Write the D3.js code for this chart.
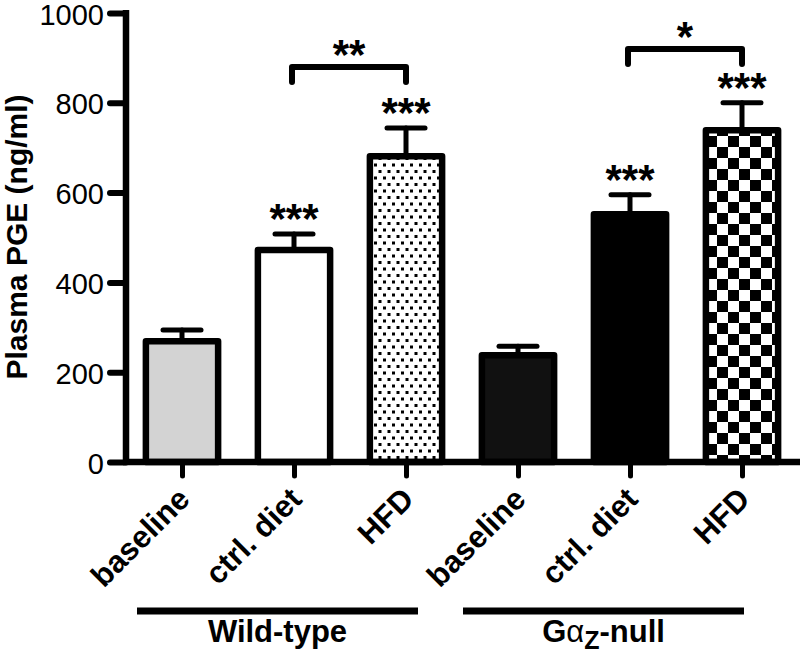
<!DOCTYPE html>
<html><head><meta charset="utf-8">
<script src="https://cdn.jsdelivr.net/npm/d3@7/dist/d3.min.js"></script>
<style>html,body{margin:0;padding:0;background:#fff}svg{display:block}</style>
</head><body>
<svg id="c" width="800" height="653"></svg>
<script>
const categories = ["baseline","ctrl. diet","HFD","baseline ","ctrl. diet ","HFD "];
const labels = ["baseline","ctrl. diet","HFD","baseline","ctrl. diet","HFD"];
const means = [269, 472, 681, 238, 552, 739];
const errors = [25, 36, 63, 20, 43, 61];
const fills = ["#d3d3d3","#ffffff","url(#dots)","#111111","#000000","url(#checker)"];
const stars = ["","***","***","","***","***"];
const yTicks = [0,200,400,600,800,1000];
const groups = [{name:"Wild-type", from:0, to:2},{name:"null", from:3, to:5}];
const brackets = [{from:1, to:2, y:880, label:"**"},{from:4, to:5, y:920, label:"*"}];

const svg = d3.select("#c");
const font = "'Liberation Sans', Arial, sans-serif";
const defs = svg.append("defs");
const pd = defs.append("pattern").attr("id","dots").attr("patternUnits","userSpaceOnUse")
  .attr("width",9).attr("height",13);
pd.append("rect").attr("width",9).attr("height",13).attr("fill","#fff");
pd.append("rect").attr("x",0.5).attr("y",1).attr("width",3).attr("height",3).attr("fill","#000");
pd.append("rect").attr("x",5).attr("y",7.5).attr("width",3).attr("height",3).attr("fill","#000");
const pc = defs.append("pattern").attr("id","checker").attr("patternUnits","userSpaceOnUse")
  .attr("width",22).attr("height",22).attr("x",2).attr("y",4);
pc.append("rect").attr("width",22).attr("height",22).attr("fill","#fff");
pc.append("rect").attr("x",0).attr("y",0).attr("width",11).attr("height",11).attr("fill","#000");
pc.append("rect").attr("x",11).attr("y",11).attr("width",11).attr("height",11).attr("fill","#000");

const x = d3.scalePoint().domain(categories).range([126,798]).padding(0.5);
const y = d3.scaleLinear().domain([0,1000]).range([462,13]);
const bw = x.step()*0.645;

// bars
svg.append("g").selectAll("rect").data(categories).join("rect")
  .attr("x", d=>x(d)-bw/2).attr("width", bw)
  .attr("y", (d,i)=>y(means[i])).attr("height",(d,i)=>y(0)-y(means[i]))
  .attr("fill",(d,i)=>fills[i]).attr("stroke","#000").attr("stroke-width",6.5)
  .attr("stroke-linejoin","round");

// error bars
const eg = svg.append("g").attr("stroke","#000").attr("stroke-width",5).attr("stroke-linecap","round");
categories.forEach((c,i)=>{
  eg.append("line").attr("x1",x(c)).attr("x2",x(c)).attr("y1",y(means[i])-3).attr("y2",y(means[i]+errors[i]));
  eg.append("line").attr("x1",x(c)-19).attr("x2",x(c)+19).attr("y1",y(means[i]+errors[i])).attr("y2",y(means[i]+errors[i]));
});

// stars
const sfs = 42;
svg.append("g").selectAll("text").data(categories).join("text")
  .attr("x", d=>x(d)).attr("y",(d,i)=>y(means[i]+errors[i]) - 24 + 0.55*sfs)
  .attr("text-anchor","middle").attr("font-family",font).attr("font-weight","bold")
  .attr("font-size",sfs).text((d,i)=>stars[i]);

// brackets
brackets.forEach(b=>{
  const x1 = x(categories[b.from])-2, x2 = x(categories[b.to]);
  const yy = y(b.y);
  svg.append("path").attr("d",`M${x1},${yy+15}V${yy}H${x2}V${yy+15}`)
    .attr("fill","none").attr("stroke","#000").attr("stroke-width",6)
    .attr("stroke-linecap","round").attr("stroke-linejoin","round");
  svg.append("text").attr("x",(x1+x2)/2).attr("y",yy-21+0.55*sfs).attr("text-anchor","middle")
    .attr("font-family",font).attr("font-weight","bold").attr("font-size",sfs).text(b.label);
});

// y axis
const ya = svg.append("g").attr("transform","translate(126,0)")
  .call(d3.axisLeft(y).tickValues(yTicks).tickSize(16).tickPadding(6).tickFormat(d3.format("d")));
ya.select(".domain").remove();
ya.selectAll(".tick line").attr("stroke","#000").attr("stroke-width",6).attr("stroke-linecap","round");
ya.selectAll(".tick text").attr("font-family",font).attr("font-size",29).attr("fill","#000").attr("dy","0.38em");
svg.append("line").attr("x1",126).attr("x2",126).attr("y1",y(1000)-3).attr("y2",y(0)+3)
  .attr("stroke","#000").attr("stroke-width",6.5);

// x axis
const xa = svg.append("g").attr("transform","translate(0,462)")
  .call(d3.axisBottom(x).tickSize(14).tickFormat((d,i)=>labels[i]));
xa.select(".domain").remove();
xa.selectAll(".tick line").attr("stroke","#000").attr("stroke-width",5).attr("stroke-linecap","round");
xa.selectAll(".tick text").attr("font-family",font).attr("font-size",31).attr("font-weight","bold")
  .attr("fill","#000").attr("text-anchor","end").attr("dy",null)
  .attr("transform","translate(9,39) rotate(-45)").attr("y",0).attr("x",0);
svg.append("line").attr("x1",123).attr("x2",800).attr("y1",462).attr("y2",462)
  .attr("stroke","#000").attr("stroke-width",6.5);

// y title
svg.append("text").attr("transform","translate(27,237) rotate(-90)").attr("text-anchor","middle")
  .attr("font-family",font).attr("font-weight","bold").attr("font-size",30).text("Plasma PGE (ng/ml)");

// group lines
const offs = [[-45,12],[-55,2]];
groups.forEach((g,k)=>{
  const x1 = x(categories[g.from])+offs[k][0], x2 = x(categories[g.to])+offs[k][1];
  svg.append("line").attr("x1",x1).attr("x2",x2).attr("y1",611).attr("y2",611)
    .attr("stroke","#000").attr("stroke-width",7);
  const t = svg.append("text").attr("x",(x1+x2)/2).attr("y",642).attr("text-anchor","middle")
    .attr("font-family",font).attr("font-weight","bold").attr("font-size",31);
  if (g.name==="Wild-type") t.text("Wild-type");
  else {
    t.append("tspan").text("G");
    t.append("tspan").attr("font-weight","normal").text("α");
    t.append("tspan").attr("font-size",25).attr("dy",7).text("Z");
    t.append("tspan").attr("dy",-7).text("-null");
  }
});
</script>
</body></html>
